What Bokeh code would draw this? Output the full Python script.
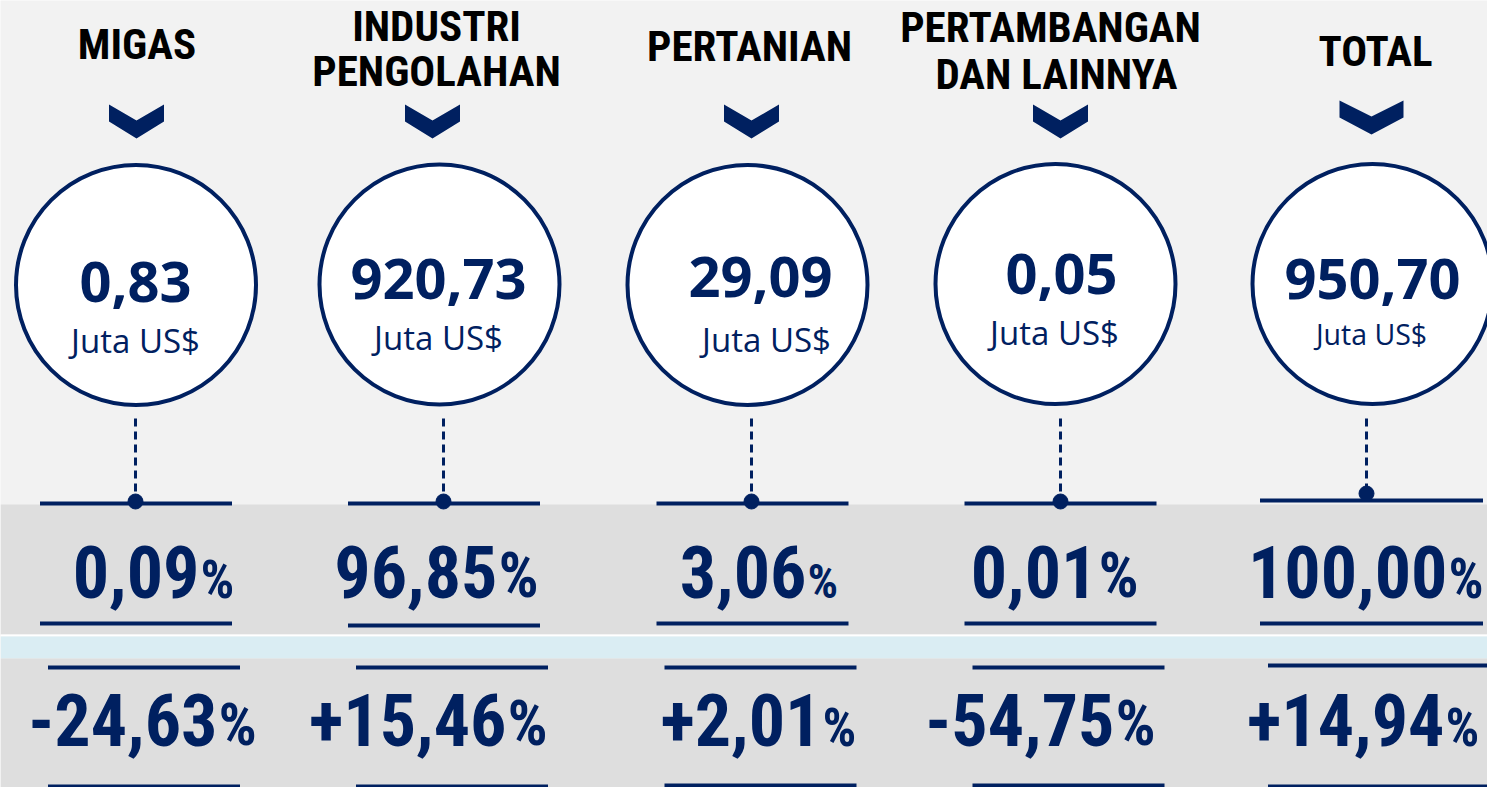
from bokeh.plotting import figure
from bokeh.models import Range1d
from bokeh.core.properties import value
from bokeh.embed import file_html
from bokeh.resources import INLINE

# ---------------- data ----------------
categories = ["MIGAS", "INDUSTRI\nPENGOLAHAN", "PERTANIAN", "PERTAMBANGAN\nDAN LAINNYA", "TOTAL"]
nilai_juta_usd = [0.83, 920.73, 29.09, 0.05, 950.70]      # Juta US$
pangsa_persen = [0.09, 96.85, 3.06, 0.01, 100.00]          # share %
pertumbuhan_persen = [-24.63, 15.46, 2.01, -54.75, 14.94]  # growth %
unit_label = "Juta US$"


def idn(v, sign=False):
    s = f"{v:+.2f}" if sign else f"{v:.2f}"
    return s.replace(".", ",")


# ---------------- style / layout ----------------
NAVY = "#002060"
NARROW = value("Roboto Condensed")
SANS = value("Open Sans")
K = 0.39  # baseline correction (fraction of font size)


def by(base, size):
    return base - K * size


W, H = 1487, 787
p = figure(width=W, height=H, x_range=Range1d(0, W), y_range=Range1d(H, 0),
           output_backend="svg", toolbar_location=None, min_border=0,
           x_axis_location=None, y_axis_location=None)
p.grid.visible = False
p.outline_line_color = None
p.background_fill_color = "#f2f2f2"
p.border_fill_color = "#f2f2f2"

# background bands
p.quad(left=[0, 0, 0, 0], right=[1500] * 4, top=[504, 634, 636, 658], bottom=[634, 636, 658, 800],
       color=["#dedede", "#ffffff", "#daedf3", "#dedede"], line_color=None)

n = len(categories)
col_x = [135.5, 443.5, 752, 1060, 1371]          # column axis (lines)
chev_x = [136, 432, 751, 1060, 1371]
chev_w = [27.5, 27.5, 27.5, 27.5, 32]
chev_y0 = [104, 104, 104, 104, 100]
circ_x = [135.5, 439, 747, 1055, 1372]
circ_y = [284.5, 284, 284.5, 283.5, 283.5]
dash_x = [135, 443, 751, 1060, 1366]
dot_y = [501, 501, 501, 501, 493]

# headers
HS = 43
head_lines_y = [[60], [42, 87], [62], [43, 90], [67]]
head_x = [136.5, 436, 749, [1050, 1056], 1375]
hx, hy, ht = [], [], []
for i, c in enumerate(categories):
    lines = c.split("\n")
    for j, ln in enumerate(lines):
        xx = head_x[i][j] if isinstance(head_x[i], list) else head_x[i]
        hx.append(xx)
        hy.append(by(head_lines_y[i][j], HS))
        ht.append(ln)
p.text(x=hx, y=hy, text=ht, text_font=NARROW, text_font_style="bold", text_font_size=f"{HS}px",
       text_color="#000000", text_align="center", text_baseline="alphabetic")

# chevrons
xs, ys = [], []
for i in range(n):
    cx, w, y0 = chev_x[i], chev_w[i], chev_y0[i]
    xs.append([cx - w, cx, cx + w, cx + w, cx, cx - w])
    ys.append([y0, y0 + 16, y0, y0 + 17, y0 + 34, y0 + 17])
p.patches(xs=xs, ys=ys, fill_color=NAVY, line_color=None)

# circles
p.circle(x=circ_x, y=circ_y, radius=120, fill_color="white", line_color=NAVY, line_width=4)

# values in circles
NS = 56
num_x = [135, 438, 760, 1061, 1372]
num_base = [303, 300, 298, 295, 300]
p.text(x=num_x, y=[by(b, NS) for b in num_base], text=[idn(v) for v in nilai_juta_usd], text_font=SANS,
       text_font_style="bold", text_font_size=f"{NS}px", text_color=NAVY,
       text_align="center", text_baseline="alphabetic")
unit_x = [135, 438, 766, 1054, 1371]
unit_base = [353, 350, 352, 345, 345]
unit_size = [33, 33, 33, 33, 28.5]
p.text(x=unit_x, y=[by(b, s) for b, s in zip(unit_base, unit_size)], text=[unit_label] * n,
       text_font=SANS, text_font_size=[f"{s}px" for s in unit_size], text_color=NAVY,
       text_align="center", text_baseline="alphabetic")

# dashed connectors and dots
p.segment(x0=dash_x, y0=[418] * n, x1=dash_x, y1=[494] * n, line_color=NAVY, line_width=3,
          line_dash="8 5")
p.scatter(x=dash_x, y=dot_y, size=15, color=NAVY)

# horizontal rules
half = [96, 96, 96, 96, 111.5]
top_y = [503, 503, 503, 503, 500]
r1b_y = [623, 625, 623, 623, 623]
r2t_y = [667, 667, 667, 667, 665]
r2b_y = [786, 786, 785, 785, 786]
x0a = [col_x[i] - half[i] for i in range(n)]
x1a = [col_x[i] + half[i] for i in range(n)]
x0b = [v + 8 for v in x0a]
x1b = [v + 8 for v in x1a]
p.segment(x0=x0a * 2 + x0b * 2, x1=x1a * 2 + x1b * 2, y0=top_y + r1b_y + r2t_y + r2b_y,
          y1=top_y + r1b_y + r2t_y + r2b_y, line_color=NAVY, line_width=4)

# percentages
BIG = 72
pct1_x = [200, 498, 807, 1098, 1448]
pct1_scale = [0.73, 0.88, 0.67, 0.88, 0.76]
pct2_x = [218, 507, 822, 1115, 1445]
pct2_scale = [0.84, 0.88, 0.73, 0.88, 0.73]

for vals, px, sc, base, sign in [(pangsa_persen, pct1_x, pct1_scale, 600, False),
                                 (pertumbuhan_persen, pct2_x, pct2_scale, 748, True)]:
    p.text(x=[v - 1 for v in px], y=[by(base, BIG)] * n, text=[idn(v, sign) for v in vals],
           text_font=NARROW, text_font_style="bold", text_font_size=f"{BIG}px", text_color=NAVY,
           text_align="right", text_baseline="alphabetic")
    p.text(x=px, y=[by(base, BIG * s) for s in sc], text=["%"] * n, text_font=NARROW,
           text_font_style="bold", text_font_size=[f"{BIG * s:.0f}px" for s in sc],
           text_color=NAVY, text_align="left", text_baseline="alphabetic")

open("out.html", "w").write(file_html(p, INLINE))
